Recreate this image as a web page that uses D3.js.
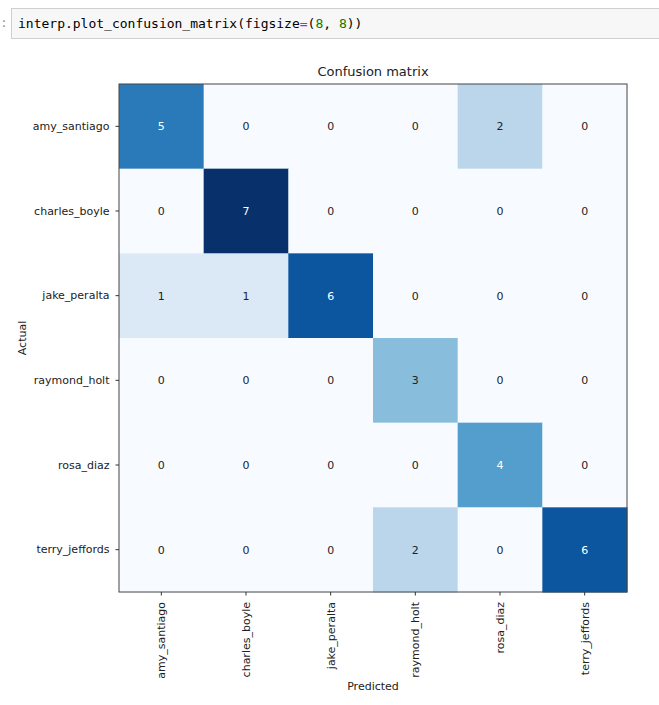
<!DOCTYPE html>
<html>
<head>
<meta charset="utf-8">
<script src="https://cdn.jsdelivr.net/npm/d3@7"></script>
<style>
  body { margin: 0; background: #fff; }
</style>
</head>
<body>
<svg width="659" height="705"></svg>
<script>
var classes = ["amy_santiago", "charles_boyle", "jake_peralta", "raymond_holt", "rosa_diaz", "terry_jeffords"];

// rows = actual, columns = predicted
var matrix = [
    [5, 0, 0, 0, 2, 0],
    [0, 7, 0, 0, 0, 0],
    [1, 1, 6, 0, 0, 0],
    [0, 0, 0, 3, 0, 0],
    [0, 0, 0, 0, 4, 0],
    [0, 0, 0, 2, 0, 6]
];

var blues = ["#f7fbff", "#deebf7", "#c6dbef", "#9ecae1", "#6baed6", "#4292c6", "#2171b5", "#08519c", "#08306b"];

var svg = d3.select("svg");

// notebook code cell
svg.append("text")
    .attr("x", 0).attr("y", 27)
    .style("font", "13px 'DejaVu Sans Mono', monospace")
    .attr("fill", "#999")
    .text(":");

svg.append("rect")
    .attr("x", 11.5).attr("y", 8.5)
    .attr("width", 660).attr("height", 30)
    .attr("fill", "#f7f7f7")
    .attr("stroke", "#cfcfcf");

var code = svg.append("text")
    .attr("x", 18).attr("y", 28)
    .style("font", "13px 'DejaVu Sans Mono', monospace")
    .attr("fill", "#000");
code.append("tspan").text("interp.plot_confusion_matrix(figsize");
code.append("tspan").attr("fill", "#aa22ff").text("=");
code.append("tspan").text("(");
code.append("tspan").attr("fill", "#008000").text("8");
code.append("tspan").text(", ");
code.append("tspan").attr("fill", "#008000").text("8");
code.append("tspan").text("))");

var margin = {top: 84, left: 119},
    size = 508,
    g = svg.append("g").attr("transform", "translate(" + margin.left + "," + margin.top + ")");

var x = d3.scaleBand().domain(classes).range([0, size]),
    y = d3.scaleBand().domain(classes).range([0, size]);

var vmax = d3.max(matrix, function (r) { return d3.max(r); });
var color = d3.scaleLinear()
    .domain(blues.map(function (c, i) { return i * vmax / (blues.length - 1); }))
    .range(blues);

var cells = [];
matrix.forEach(function (row, i) {
    row.forEach(function (v, j) {
        cells.push({actual: classes[i], predicted: classes[j], value: v});
    });
});

g.selectAll(".cell")
    .data(cells)
    .enter().append("rect")
    .attr("class", "cell")
    .attr("x", function (d) { return x(d.predicted); })
    .attr("y", function (d) { return y(d.actual); })
    .attr("width", x.bandwidth() + 0.5)
    .attr("height", y.bandwidth() + 0.5)
    .attr("fill", function (d) { return color(d.value); });

g.selectAll(".val")
    .data(cells)
    .enter().append("text")
    .attr("class", "val")
    .attr("x", function (d) { return x(d.predicted) + x.bandwidth() / 2; })
    .attr("y", function (d) { return y(d.actual) + y.bandwidth() / 2; })
    .attr("dy", "0.35em")
    .attr("text-anchor", "middle")
    .style("font", "11px 'DejaVu Sans', sans-serif")
    .attr("fill", function (d) { return d.value > vmax / 2 ? "#fff" : "#222"; })
    .text(function (d) { return d.value; });

// frame
g.append("rect")
    .attr("width", size).attr("height", size)
    .attr("fill", "none")
    .attr("stroke", "#444")
    .attr("stroke-width", 1);

var xAxis = g.append("g")
    .attr("transform", "translate(0," + size + ")")
    .call(d3.axisBottom(x).tickSize(3.5).tickPadding(4));
xAxis.select(".domain").remove();
xAxis.selectAll("line").attr("stroke", "#333");
xAxis.selectAll("text")
    .style("font", "11px 'DejaVu Sans', sans-serif")
    .attr("fill", "#222")
    .attr("transform", "rotate(-90)")
    .attr("text-anchor", "end")
    .attr("x", -10)
    .attr("y", 0)
    .attr("dy", "0.35em");

var yAxis = g.append("g")
    .call(d3.axisLeft(y).tickSize(3.5).tickPadding(6));
yAxis.select(".domain").remove();
yAxis.selectAll("line").attr("stroke", "#333");
yAxis.selectAll("text")
    .style("font", "11px 'DejaVu Sans', sans-serif")
    .attr("fill", "#222");

g.append("text")
    .attr("x", size / 2).attr("y", -8)
    .attr("text-anchor", "middle")
    .style("font", "13px 'DejaVu Sans', sans-serif")
    .attr("fill", "#222")
    .text("Confusion matrix");

g.append("text")
    .attr("x", size / 2).attr("y", size + 98)
    .attr("text-anchor", "middle")
    .style("font", "11px 'DejaVu Sans', sans-serif")
    .attr("fill", "#222")
    .text("Predicted");

g.append("text")
    .attr("transform", "rotate(-90)")
    .attr("x", -(size / 2)).attr("y", -93)
    .attr("text-anchor", "middle")
    .style("font", "11px 'DejaVu Sans', sans-serif")
    .attr("fill", "#222")
    .text("Actual");
</script>
</body>
</html>
